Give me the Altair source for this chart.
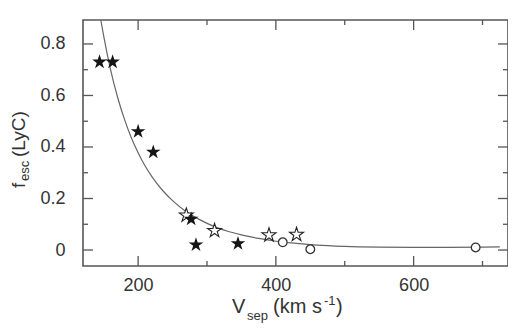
import altair as alt
import pandas as pd

# ---- data ----
filled_v = [144, 163, 200, 222, 277, 284, 345]
filled_f = [0.73, 0.73, 0.46, 0.38, 0.12, 0.02, 0.025]
open_star_v = [270, 311, 390, 430]
open_star_f = [0.135, 0.075, 0.058, 0.06]
circle_v = [410, 450, 690]
circle_f = [0.03, 0.003, 0.01]

curve_v = [146, 150, 160, 170, 180, 190, 200, 210, 220, 235, 250, 270, 290, 310,
           330, 350, 375, 400, 430, 460, 500, 550, 600, 650, 700, 725]
curve_f = [0.891, 0.831, 0.700, 0.595, 0.509, 0.437, 0.378, 0.327, 0.285, 0.233,
           0.192, 0.149, 0.117, 0.092, 0.073, 0.059, 0.045, 0.034, 0.026, 0.019,
           0.014, 0.011, 0.010, 0.010, 0.011, 0.012]

x_major = [200, 400, 600]
x_minor = [300, 500, 700]
y_major = [0, 0.2, 0.4, 0.6, 0.8]
y_minor = [0.1, 0.3, 0.5, 0.7]

W, H = 425, 246
FONT = "Liberation Sans"
TXT = "#333333"
FRAME = "#555555"
STAR = ("M0,-1L0.2245,-0.309L0.951,-0.309L0.363,0.118L0.588,0.809L0,0.382"
        "L-0.588,0.809L-0.363,0.118L-0.951,-0.309L-0.2245,-0.309Z")

xs = alt.Scale(domain=[120, 737], nice=False, zero=False)
ys = alt.Scale(domain=[-0.062, 0.893], nice=False, zero=False)

xaxis = alt.Axis(orient="bottom", values=x_major, grid=False, domain=False, ticks=False,
                 labelPadding=10, labelFontSize=18, labelFont=FONT, labelColor=TXT,
                 title=None, format="d")
yaxis = alt.Axis(orient="left", values=y_major, grid=False, domain=False, ticks=False,
                 labelPadding=18, labelFontSize=18, labelFont=FONT, labelColor=TXT,
                 title=None, labelExpr="datum.value == 0 ? '0' : format(datum.value, '.1f')")

X = lambda: alt.X("v:Q", scale=xs, axis=xaxis)
Y = lambda: alt.Y("f:Q", scale=ys, axis=yaxis)

curve = alt.Chart(pd.DataFrame({"v": curve_v, "f": curve_f})).mark_line(
    color="#666666", strokeWidth=1.2, interpolate="monotone").encode(x=X(), y=Y())

ostars = alt.Chart(pd.DataFrame({"v": open_star_v, "f": open_star_f})).mark_point(
    shape=STAR, size=215, filled=True, fill="white", stroke="#222222",
    strokeWidth=1.1, opacity=1).encode(x=X(), y=Y())

circles = alt.Chart(pd.DataFrame({"v": circle_v, "f": circle_f})).mark_point(
    shape="circle", size=75, filled=True, fill="white", stroke="#333333",
    strokeWidth=1.3, opacity=1).encode(x=X(), y=Y())

fstars = alt.Chart(pd.DataFrame({"v": filled_v, "f": filled_f})).mark_point(
    shape=STAR, size=235, filled=True, fill="#151515", opacity=1).encode(x=X(), y=Y())

def xticks(vals, length):
    df = pd.DataFrame({"v": vals})
    b = alt.Chart(df).mark_rule(color=FRAME, strokeWidth=1.3).encode(
        x=X(), y=alt.value(H), y2=alt.value(H - length))
    t = alt.Chart(df).mark_rule(color=FRAME, strokeWidth=1.3).encode(
        x=X(), y=alt.value(0.1), y2=alt.value(length))
    return [b, t]

def yticks(vals, length):
    df = pd.DataFrame({"f": vals})
    l = alt.Chart(df).mark_rule(color=FRAME, strokeWidth=1.3).encode(
        y=Y(), x=alt.value(0.1), x2=alt.value(length))
    r = alt.Chart(df).mark_rule(color=FRAME, strokeWidth=1.3).encode(
        y=Y(), x=alt.value(W), x2=alt.value(W - length))
    return [l, r]

ticks = xticks(x_major, 10) + xticks(x_minor, 5) + yticks(y_major, 10) + yticks(y_minor, 5)

def label(text, x, y, size, angle=0):
    return alt.Chart(pd.DataFrame({"t": [text]})).mark_text(
        font=FONT, fontSize=size, color=TXT, align="left", baseline="alphabetic",
        angle=angle).encode(text="t:N", x=alt.value(x), y=alt.value(y))

titles = [
    label("V", 149, 293, 20),
    label("sep", 164, 300, 13),
    label("(km s", 190, 293, 20),
    label("-1", 241, 285, 13),
    label(")", 253, 293, 20),
    label("f", -58, 168, 19, angle=270),
    label("esc", -54, 161, 13, angle=270),
    label("(LyC)", -58, 137, 19, angle=270),
]

chart = alt.layer(curve, *ticks, ostars, circles, fstars, *titles).properties(
    width=W, height=H,
    padding={"left": 75, "top": 12, "right": 0, "bottom": 58},
    autosize=alt.AutoSizeParams(type="none"),
    background="white",
).configure_view(stroke=FRAME, strokeWidth=1.6)

chart.save("out.html", embed_options={"renderer": "svg", "actions": False})
